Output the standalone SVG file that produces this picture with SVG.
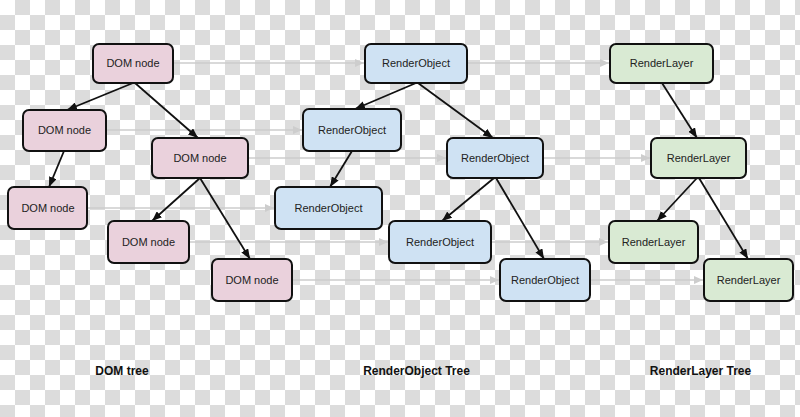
<svg xmlns="http://www.w3.org/2000/svg" width="800" height="417" viewBox="0 0 800 417">
<style>
.n rect{stroke:#111;stroke-width:2}
.dom rect{fill:#ead1dc}
.ro rect{fill:#cfe2f3}
.rl rect{fill:#d9ead3}
.n text{font-family:"Liberation Sans",Arial,sans-serif;font-size:11px;fill:#222;text-anchor:middle}
.lbl{font-family:"Liberation Sans",Arial,sans-serif;font-size:12px;font-weight:bold;fill:#111;text-anchor:middle}
.tree line{stroke:#111;stroke-width:1.8;marker-end:url(#ah)}
.map line{stroke:#cdcdcd;stroke-width:1.6;marker-end:url(#ag)}
</style>
<defs>
<pattern id="chk" width="30" height="30" patternUnits="userSpaceOnUse">
<rect width="30" height="30" fill="#fff"/>
<rect x="15" y="0" width="15" height="15" fill="#dcdcdc"/>
<rect x="0" y="15" width="15" height="15" fill="#dcdcdc"/>
</pattern>
<marker id="ah" markerWidth="10" markerHeight="8" refX="10" refY="4" orient="auto" markerUnits="userSpaceOnUse"><path d="M0,0 L10,4 L0,8 z" fill="#111"/></marker>
<marker id="ag" markerWidth="9" markerHeight="8" refX="9" refY="4" orient="auto" markerUnits="userSpaceOnUse"><path d="M0,0 L9,4 L0,8 z" fill="#cdcdcd"/></marker>
</defs>
<rect width="800" height="417" fill="url(#chk)"/>
<g id="connectors">
<g class="map">
<line x1="173" y1="63" x2="364" y2="63"/>
<line x1="467" y1="63" x2="609" y2="63"/>
<line x1="106" y1="130" x2="302" y2="130"/>
<line x1="248" y1="158" x2="446" y2="158"/>
<line x1="543" y1="158" x2="650" y2="158"/>
<line x1="87" y1="208" x2="274" y2="208"/>
<line x1="189" y1="242" x2="388" y2="242"/>
<line x1="491" y1="242" x2="608" y2="242"/>
<line x1="292" y1="280" x2="499" y2="280"/>
<line x1="590" y1="280" x2="703" y2="280"/>
</g>
<g class="tree">
<line x1="133" y1="83" x2="67" y2="110"/>
<line x1="135" y1="83" x2="198" y2="138"/>
<line x1="64" y1="151" x2="49" y2="187"/>
<line x1="200" y1="178" x2="152" y2="221"/>
<line x1="200" y1="178" x2="250" y2="259"/>
<line x1="416" y1="83" x2="355" y2="109"/>
<line x1="418" y1="83" x2="493" y2="138"/>
<line x1="352" y1="151" x2="330" y2="187"/>
<line x1="494" y1="178" x2="442" y2="221"/>
<line x1="496" y1="178" x2="544" y2="259"/>
<line x1="662" y1="83" x2="697" y2="138"/>
<line x1="697" y1="178" x2="657" y2="221"/>
<line x1="699" y1="178" x2="748" y2="259"/>
</g>
</g>
<g id="dom1" class="n dom"><rect x="93" y="44" width="80" height="39" rx="6"/><text x="133" y="67">DOM node</text></g>
<g id="dom2" class="n dom"><rect x="23" y="110" width="83" height="41" rx="6"/><text x="64.5" y="134">DOM node</text></g>
<g id="dom3" class="n dom"><rect x="152" y="138" width="96" height="40" rx="6"/><text x="200" y="162">DOM node</text></g>
<g id="dom4" class="n dom"><rect x="8" y="187" width="79" height="42" rx="6"/><text x="48" y="212">DOM node</text></g>
<g id="dom5" class="n dom"><rect x="108" y="221" width="81" height="42" rx="6"/><text x="148.5" y="246">DOM node</text></g>
<g id="dom6" class="n dom"><rect x="212" y="259" width="80" height="42" rx="6"/><text x="252" y="284">DOM node</text></g>
<g id="ro1" class="n ro"><rect x="365" y="44" width="102" height="39" rx="6"/><text x="416" y="67">RenderObject</text></g>
<g id="ro2" class="n ro"><rect x="303" y="109" width="98" height="42" rx="6"/><text x="352" y="134">RenderObject</text></g>
<g id="ro3" class="n ro"><rect x="447" y="138" width="96" height="40" rx="6"/><text x="495" y="162">RenderObject</text></g>
<g id="ro4" class="n ro"><rect x="275" y="187" width="107" height="42" rx="6"/><text x="328.5" y="212">RenderObject</text></g>
<g id="ro5" class="n ro"><rect x="389" y="221" width="102" height="42" rx="6"/><text x="440" y="246">RenderObject</text></g>
<g id="ro6" class="n ro"><rect x="500" y="259" width="90" height="42" rx="6"/><text x="545" y="284">RenderObject</text></g>
<g id="rl1" class="n rl"><rect x="610" y="44" width="103" height="39" rx="6"/><text x="661.5" y="67">RenderLayer</text></g>
<g id="rl2" class="n rl"><rect x="651" y="138" width="95" height="40" rx="6"/><text x="698.5" y="162">RenderLayer</text></g>
<g id="rl3" class="n rl"><rect x="609" y="221" width="89" height="42" rx="6"/><text x="653.5" y="246">RenderLayer</text></g>
<g id="rl4" class="n rl"><rect x="704" y="259" width="89" height="42" rx="6"/><text x="748.5" y="284">RenderLayer</text></g>
<g id="labels">
<text class="lbl" x="122" y="375">DOM tree</text>
<text class="lbl" x="416.5" y="375">RenderObject Tree</text>
<text class="lbl" x="700.5" y="375">RenderLayer Tree</text>
</g>
</svg>
